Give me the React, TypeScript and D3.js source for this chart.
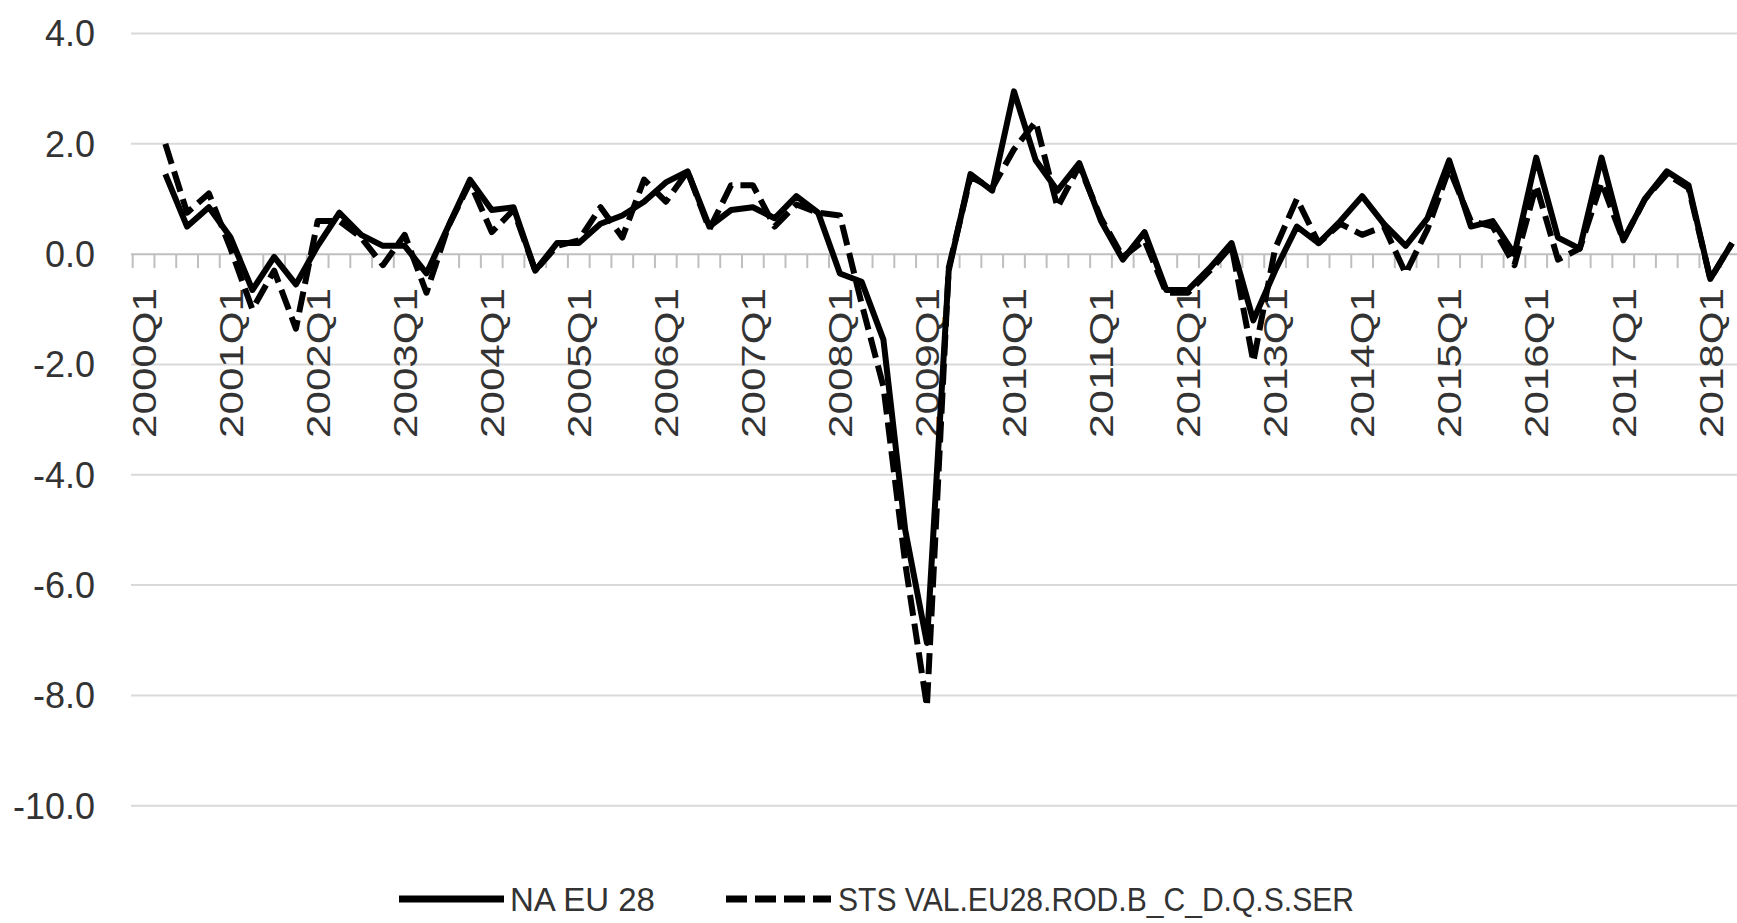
import React from 'react'
import * as d3 from 'd3'

// quarterly categories 2000Q1 .. 2018Q2
const years = d3.range(2000, 2019)
const quarterNames = ['Q1', 'Q2', 'Q3', 'Q4']
const categories: string[] = years
  .flatMap((y) => quarterNames.map((q) => `${y}${q}`))
  .slice(0, 74)

// q-o-q growth, NA EU 28 (solid)
const naEu28: (number | null)[] = [
  null, 1.45, 0.5, 0.85, 0.3, -0.65, -0.05, -0.55, 0.15, 0.75,
  0.35, 0.15, 0.15, -0.35, 0.5, 1.35, 0.8, 0.85, -0.3, 0.2,
  0.2, 0.55, 0.7, 0.95, 1.3, 1.5, 0.5, 0.8, 0.85, 0.65,
  1.05, 0.75, -0.35, -0.5, -1.55, -5.0, -7.05, -0.3, 1.45, 1.15,
  2.95, 1.7, 1.15, 1.65, 0.6, -0.1, 0.4, -0.65, -0.65, -0.25,
  0.2, -1.2, -0.3, 0.5, 0.2, 0.6, 1.05, 0.55, 0.15, 0.65,
  1.7, 0.5, 0.6, 0.0, 1.75, 0.3, 0.1, 1.75, 0.25, 1.0,
  1.5, 1.25, -0.45, 0.2,
]

// STS VAL.EU28.ROD.B_C_D.Q.S.SER (dashed)
const stsVal: (number | null)[] = [
  null, 2.0, 0.75, 1.1, 0.1, -1.0, -0.3, -1.35, 0.6, 0.6,
  0.3, -0.2, 0.35, -0.7, 0.5, 1.3, 0.4, 0.8, -0.3, 0.15,
  0.25, 0.85, 0.3, 1.35, 0.95, 1.5, 0.45, 1.25, 1.25, 0.5,
  0.9, 0.75, 0.7, -0.9, -2.4, -5.6, -8.2, -0.25, 1.4, 1.2,
  1.9, 2.4, 0.85, 1.6, 0.65, -0.05, 0.25, -0.7, -0.7, -0.3,
  0.15, -1.95, 0.1, 1.0, 0.2, 0.55, 0.35, 0.5, -0.35, 0.45,
  1.55, 0.6, 0.5, -0.2, 1.25, -0.1, 0.1, 1.3, 0.25, 1.0,
  1.45, 1.2, -0.45, 0.2,
]

const seriesNames = ['NA EU 28', 'STS VAL.EU28.ROD.B_C_D.Q.S.SER']
const yTicks = [4, 2, 0, -2, -4, -6, -8, -10]

const W = 1737
const H = 923
const FONT = '"Liberation Sans", Arial, sans-serif'
const TEXT = '#333'
const GRID = '#d9d9d9'
const AXIS = '#bfbfbf'
const DASH = '21,8'
const LEGEND_Y = 899

export default function App() {
  const x = d3
    .scaleBand<string>()
    .domain(categories)
    .range([132.7, 132.7 + 74 * 21.76])
  const y = d3.scaleLinear().domain([-10, 4]).range([805.7, 33.5])
  const cx = (c: string) => (x(c) as number) + x.bandwidth() / 2

  const line = d3
    .line<number | null>()
    .defined((d) => d != null)
    .x((_, i) => cx(categories[i]))
    .y((d) => y(d as number))

  const tickXs = categories.map((c) => x(c) as number).concat(x.range()[1])
  const labelCats = categories.filter((_, i) => i % 4 === 0)

  return (
    <svg
      width={W}
      height={H}
      style={{ position: 'absolute', left: 0, top: 0, background: '#fff' }}
      fontFamily={FONT}
    >
      {/* gridlines */}
      {yTicks
        .filter((t) => t !== 0)
        .map((t) => (
          <line key={t} x1={131} x2={W} y1={y(t)} y2={y(t)} stroke={GRID} strokeWidth={2} />
        ))}
      {yTicks.map((t) => (
        <text
          key={'l' + t}
          x={95}
          y={y(t)}
          dy="0.36em"
          textAnchor="end"
          fontSize={36}
          fill={TEXT}
        >
          {t.toFixed(1)}
        </text>
      ))}

      {/* category axis at zero */}
      <line x1={131} x2={W} y1={y(0)} y2={y(0)} stroke={AXIS} strokeWidth={2} />
      {tickXs.map((tx, i) => (
        <line key={'t' + i} x1={tx} x2={tx} y1={y(0)} y2={y(0) + 14} stroke={AXIS} strokeWidth={2} />
      ))}
      {labelCats.map((c) => (
        <text
          key={c}
          transform={`translate(${cx(c)},288) rotate(-90)`}
          dy="0.36em"
          textAnchor="end"
          fontSize={34}
          fill={TEXT}
          textLength={150}
          lengthAdjust="spacingAndGlyphs"
        >
          {c}
        </text>
      ))}

      {/* series */}
      <path
        d={line(naEu28) ?? ''}
        fill="none"
        stroke="#000"
        strokeWidth={6}
        strokeLinejoin="round"
      />
      <path
        d={line(stsVal) ?? ''}
        fill="none"
        stroke="#000"
        strokeWidth={6}
        strokeDasharray={DASH}
        strokeLinejoin="round"
      />

      {/* legend */}
      <line x1={399} x2={504} y1={LEGEND_Y} y2={LEGEND_Y} stroke="#000" strokeWidth={7} />
      <text x={510} y={LEGEND_Y} dy="0.36em" fontSize={33} fill={TEXT} textLength={145} lengthAdjust="spacingAndGlyphs">
        {seriesNames[0]}
      </text>
      <line x1={726} x2={831} y1={LEGEND_Y} y2={LEGEND_Y} stroke="#000" strokeWidth={7} strokeDasharray={DASH} />
      <text x={838} y={LEGEND_Y} dy="0.36em" fontSize={33} fill={TEXT} textLength={516} lengthAdjust="spacingAndGlyphs">
        {seriesNames[1]}
      </text>
    </svg>
  )
}
